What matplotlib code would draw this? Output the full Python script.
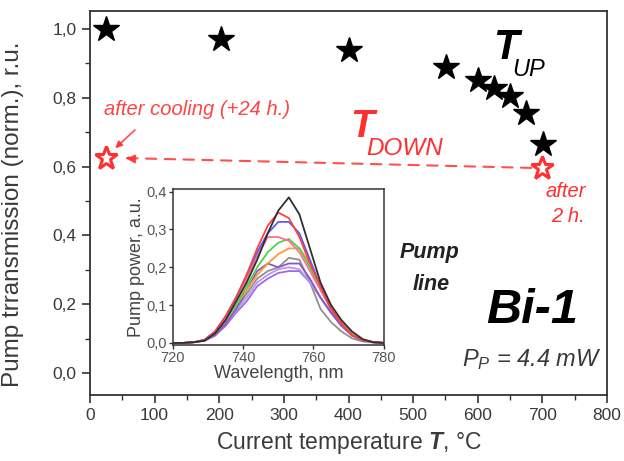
import matplotlib
matplotlib.use("Agg")
import matplotlib.pyplot as plt
from matplotlib.ticker import MultipleLocator, FuncFormatter

plt.rcParams['font.family'] = ['Liberation Sans', 'DejaVu Sans']
plt.rcParams['mathtext.fontset'] = 'custom'
plt.rcParams['mathtext.rm'] = 'Liberation Sans'
plt.rcParams['mathtext.it'] = 'Liberation Sans:italic'
plt.rcParams['mathtext.bf'] = 'Liberation Sans:bold:italic'

# Main data
t_up = [25, 203, 401, 551, 600, 625, 650, 675, 701]
tr_up = [1.0, 0.971, 0.939, 0.89, 0.852, 0.828, 0.805, 0.756, 0.666]
t_down = [25, 700]
tr_down = [0.625, 0.596]

# Inset spectra
wl = [720, 723, 726, 729, 732, 735, 738, 741, 744, 747, 750, 753, 756, 759, 762, 765, 768, 771, 774, 777, 780]
spec_black = [0, 0, 0.002, 0.006, 0.025, 0.06, 0.11, 0.16, 0.22, 0.29, 0.35, 0.385, 0.34, 0.25, 0.16, 0.10, 0.06, 0.03, 0.01, 0.002, 0]
spec_red = [0, 0, 0.002, 0.008, 0.03, 0.07, 0.12, 0.18, 0.25, 0.31, 0.345, 0.33, 0.28, 0.21, 0.15, 0.09, 0.05, 0.02, 0.007, 0.002, 0]
spec_blue = [0, 0, 0.002, 0.008, 0.03, 0.07, 0.12, 0.18, 0.24, 0.29, 0.32, 0.32, 0.29, 0.22, 0.15, 0.09, 0.05, 0.02, 0.007, 0.002, 0]
spec_pink = [0, 0, 0.002, 0.008, 0.03, 0.07, 0.12, 0.17, 0.23, 0.28, 0.28, 0.27, 0.24, 0.19, 0.14, 0.09, 0.05, 0.02, 0.007, 0.002, 0]
spec_green = [0, 0, 0.002, 0.007, 0.025, 0.06, 0.10, 0.15, 0.20, 0.24, 0.265, 0.275, 0.25, 0.20, 0.14, 0.09, 0.05, 0.02, 0.007, 0.002, 0]
spec_orange = [0, 0, 0.002, 0.007, 0.025, 0.06, 0.10, 0.14, 0.18, 0.21, 0.235, 0.25, 0.25, 0.21, 0.15, 0.10, 0.055, 0.025, 0.008, 0.002, 0]
spec_grey = [0, 0, 0.002, 0.006, 0.02, 0.05, 0.09, 0.13, 0.17, 0.19, 0.20, 0.225, 0.22, 0.16, 0.09, 0.055, 0.03, 0.012, 0.004, 0.001, 0]
spec_purple = [0, 0, 0.002, 0.006, 0.02, 0.05, 0.09, 0.14, 0.19, 0.21, 0.20, 0.21, 0.21, 0.17, 0.12, 0.08, 0.045, 0.02, 0.007, 0.002, 0]
spec_lilac = [0, 0, 0.002, 0.006, 0.02, 0.05, 0.085, 0.12, 0.16, 0.18, 0.195, 0.20, 0.195, 0.16, 0.12, 0.08, 0.045, 0.02, 0.007, 0.002, 0]
spec_violet = [0, 0, 0.002, 0.006, 0.02, 0.045, 0.08, 0.11, 0.15, 0.17, 0.185, 0.19, 0.19, 0.16, 0.12, 0.08, 0.045, 0.02, 0.007, 0.002, 0]

spectra = [
    (spec_grey, '#909090'),
    (spec_violet, '#9a6af0'),
    (spec_lilac, '#b898e8'),
    (spec_purple, '#8858c8'),
    (spec_orange, '#ff9a30'),
    (spec_green, '#50d050'),
    (spec_pink, '#ff7088'),
    (spec_blue, '#5a5aff'),
    (spec_red, '#ff4040'),
    (spec_black, '#303030'),
]

red = '#ff3030'
axc = '#333333'
tickc = '#3a3a3a'

fig = plt.figure(figsize=(6.24, 4.61), dpi=100)
ax = fig.add_axes([0.144, 0.143, 0.829, 0.833])

ax.plot(t_up, tr_up, linestyle='none', marker='*', ms=19, color='black')
ax.plot(t_down, tr_down, linestyle='none', marker='*', ms=17, mfc='white', mec=red, mew=2.2)

# dashed arrow from 700 back to 25
ax.annotate('', xy=(t_down[0] + 25, tr_down[0]), xytext=(t_down[1] - 13, tr_down[1]),
            arrowprops=dict(arrowstyle='-|>', color=red, lw=1.5, linestyle=(0, (5, 4)),
                            mutation_scale=14, alpha=0.85))
ax.annotate('', xy=(36, 0.648), xytext=(73, 0.712),
            arrowprops=dict(arrowstyle='-|>', color=red, lw=1.2, mutation_scale=10, alpha=0.85))

ax.set_xlim(0, 800)
ax.set_ylim(-0.064, 1.052)
ax.xaxis.set_major_locator(MultipleLocator(100))
ax.xaxis.set_minor_locator(MultipleLocator(50))
ax.yaxis.set_major_locator(MultipleLocator(0.2))
ax.yaxis.set_minor_locator(MultipleLocator(0.1))
ax.yaxis.set_major_formatter(FuncFormatter(lambda v, p: f"{v:.1f}".replace('.', ',')))
ax.tick_params(which='major', direction='out', length=6, width=1.2, color=axc,
               labelsize=12.5, labelcolor=tickc)
ax.tick_params(which='minor', direction='out', length=3.5, width=1.0, color=axc)
for s in ax.spines.values():
    s.set_color(axc)
    s.set_linewidth(1.3)

ax.set_xlabel(r'Current temperature $\mathbf{T}$, °C', fontsize=16.5, color=tickc)
ax.xaxis.set_label_coords(0.5, -0.09)
ax.set_ylabel('Pump trransmission (norm.), r.u.', fontsize=17.5, color=tickc)
ax.yaxis.set_label_coords(-0.128, 0.47)

# texts
ax.text(22, 0.765, 'after cooling (+24 h.)', color=red, style='italic', fontsize=14.5,
        va='center', ha='left', alpha=0.9)
ax.text(624, 0.945, 'T', fontsize=30, style='italic', fontweight='bold', color='black',
        va='center', ha='left')
ax.text(653, 0.881, 'UP', fontsize=17, style='italic', color='black', va='center', ha='left')
ax.text(402, 0.715, 'T', fontsize=28, style='italic', fontweight='bold', color=red,
        va='center', ha='left')
ax.text(428, 0.654, 'DOWN', fontsize=17.5, style='italic', color=red, va='center', ha='left')
ax.text(704, 0.529, 'after', fontsize=14.5, style='italic', color=red, va='center', ha='left')
ax.text(713, 0.456, '2 h.', fontsize=14.5, style='italic', color=red, va='center', ha='left')
ax.text(526, 0.349, 'Pump', fontsize=15.5, style='italic', fontweight='bold', color='#222222',
        va='center', ha='center')
ax.text(528, 0.256, 'line', fontsize=15.5, style='italic', fontweight='bold', color='#222222',
        va='center', ha='center')
ax.text(684, 0.183, 'Bi-1', fontsize=35, style='italic', fontweight='bold', color='black',
        va='center', ha='center')
ax.text(683, 0.038, r'$P_P$ = 4.4 mW', fontsize=17, style='italic', color=tickc,
        va='center', ha='center')

# inset
ins = fig.add_axes([0.277, 0.252, 0.338, 0.338])
for spec, c in spectra:
    ins.plot(wl, spec, color=c, lw=1.3)
ins.set_xlim(720, 780)
ins.set_ylim(-0.005, 0.407)
ins.xaxis.set_major_locator(MultipleLocator(20))
ins.yaxis.set_major_locator(MultipleLocator(0.1))
ins.yaxis.set_major_formatter(FuncFormatter(lambda v, p: f"{v:.1f}".replace('.', ',')))
ins.tick_params(direction='out', length=3, width=1, color=axc, labelsize=10.5,
                labelcolor='#555555', pad=1.5)
for s in ins.spines.values():
    s.set_color(axc)
    s.set_linewidth(1.1)
ins.set_xlabel('Wavelength, nm', fontsize=13, color='#444444', labelpad=0)
ins.set_ylabel('Pump power, a.u.', fontsize=13, color='#444444', labelpad=1)

fig.savefig('out.png', dpi=100)
